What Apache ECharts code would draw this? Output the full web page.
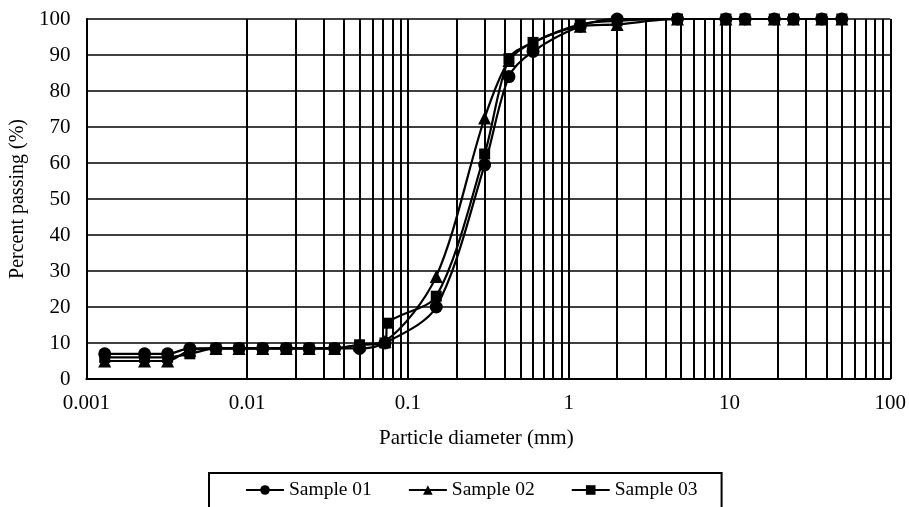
<!DOCTYPE html>
<html>
<head>
<meta charset="utf-8">
<script src="https://cdn.jsdelivr.net/npm/echarts@6/dist/echarts.min.js"></script>
<style>html,body{margin:0;padding:0;background:#fff}#c{width:909px;height:507px}</style>
</head>
<body>
<div id="c"></div>
<script>
// Particle diameters (mm)
var diam01 = [0.0013, 0.0023, 0.0032, 0.0044, 0.0064, 0.0089, 0.0125, 0.0175, 0.0243, 0.035, 0.05, 0.072, 0.15, 0.3, 0.425, 0.6, 1.18, 2, 4.75, 9.5, 12.5, 19, 25, 37.5, 50];
var pass01 = [7, 7, 7, 8.5, 8.5, 8.5, 8.5, 8.5, 8.5, 8.5, 8.5, 10, 20, 59.5, 84, 91, 98, 100, 100, 100, 100, 100, 100, 100, 100];
var diam02 = [0.0013, 0.0023, 0.0032, 0.0044, 0.0064, 0.0089, 0.0125, 0.0175, 0.0243, 0.035, 0.05, 0.072, 0.15, 0.3, 0.425, 0.6, 1.18, 2, 4.75, 9.5, 12.5, 19, 25, 37.5, 50];
var pass02 = [5, 5, 5, 8, 8.5, 8.5, 8.5, 8.5, 8.5, 8.5, 9.5, 10.5, 28.5, 72.5, 88.5, 93.5, 98, 98.5, 100, 100, 100, 100, 100, 100, 100];
var diam03 = [0.0013, 0.0023, 0.0032, 0.0044, 0.0064, 0.0089, 0.0125, 0.0175, 0.0243, 0.035, 0.05, 0.072, 0.075, 0.15, 0.3, 0.425, 0.6, 1.18, 2, 4.75, 9.5, 12.5, 19, 25, 37.5, 50];
var pass03 = [6, 6, 6, 7, 8.5, 8.5, 8.5, 8.5, 8.5, 8.5, 9.5, 10, 15.5, 23, 62.5, 89, 93.5, 98.5, 99.5, 100, 100, 100, 100, 100, 100, 100];
var seriesNames = ['Sample 01', 'Sample 02', 'Sample 03'];
var xTickLabels = ['0.001', '0.01', '0.1', '1', '10', '100'];
var xMin = 0.001, xMax = 100;

// minor log gridline positions (2..9 x 10^k)
var minorLines = [];
for (var k = -3; k < 2; k++) {
  for (var m = 2; m <= 9; m++) {
    minorLines.push({ xAxis: +(m * Math.pow(10, k)).toPrecision(3) });
  }
}

function pairs(xs, ys) { return xs.map(function (x, i) { return [x, ys[i]]; }); }

var font = 'Liberation Serif, Times New Roman, serif';
var chart = echarts.init(document.getElementById('c'));
var symbols = ['circle', 'triangle', 'rect'];
var sizes = [13, 13, 11];
var datas = [pairs(diam01, pass01), pairs(diam02, pass02), pairs(diam03, pass03)];

var series = seriesNames.map(function (n, i) {
  var s = {
    name: n,
    type: 'line',
    data: datas[i],
    smooth: 0.3,
    symbol: symbols[i],
    symbolSize: sizes[i],
    showSymbol: true,
    lineStyle: { color: '#000', width: 2.2 },
    itemStyle: { color: '#000' },
    animation: false,
    z: 5
  };
  if (i === 0) {
    s.markLine = {
      silent: true,
      symbol: 'none',
      animation: false,
      label: { show: false },
      lineStyle: { color: '#000', width: 2, type: 'solid' },
      emphasis: { disabled: true },
      data: minorLines,
      z: 1
    };
  }
  return s;
});

chart.setOption({
  backgroundColor: '#fff',
  animation: false,
  textStyle: { fontFamily: font },
  grid: { left: 86, right: 15, top: 19, bottom: 128, containLabel: false },
  xAxis: {
    type: 'log',
    logBase: 10,
    min: xMin,
    max: xMax,
    name: 'Particle diameter (mm)',
    nameLocation: 'middle',
    nameGap: 49,
    nameTextStyle: { color: '#000', fontSize: 21, fontFamily: font, padding: [0, 24, 0, 0] },
    axisLine: { show: true, onZero: false, lineStyle: { color: '#000', width: 2 } },
    axisTick: { show: false },
    axisLabel: {
      color: '#000', fontSize: 21, fontFamily: font, margin: 14,
      formatter: function (v) {
        var idx = Math.round(Math.log10(v) - Math.log10(xMin));
        return xTickLabels[idx] !== undefined ? xTickLabels[idx] : '';
      }
    },
    splitLine: { show: true, lineStyle: { color: '#000', width: 2 } },
    minorSplitLine: { show: false }
  },
  yAxis: {
    type: 'value',
    min: 0,
    max: 100,
    interval: 10,
    name: 'Percent passing (%)',
    nameLocation: 'middle',
    nameGap: 54,
    nameTextStyle: { color: '#000', fontSize: 20, fontFamily: font },
    axisLine: { show: true, lineStyle: { color: '#000', width: 2 } },
    axisTick: { show: false },
    axisLabel: { color: '#000', fontSize: 21, fontFamily: font, margin: 16 },
    splitLine: { show: true, lineStyle: { color: '#000', width: 1.5 } }
  },
  legend: {
    data: seriesNames,
    left: 209,
    top: 473,
    orient: 'horizontal',
    padding: [7, 24, 20, 36],
    itemGap: 36,
    itemWidth: 38,
    itemHeight: 12,
    borderColor: '#000',
    borderWidth: 2,
    textStyle: { color: '#000', fontSize: 19.5, fontFamily: font }
  },
  series: series
});
</script>
</body>
</html>
